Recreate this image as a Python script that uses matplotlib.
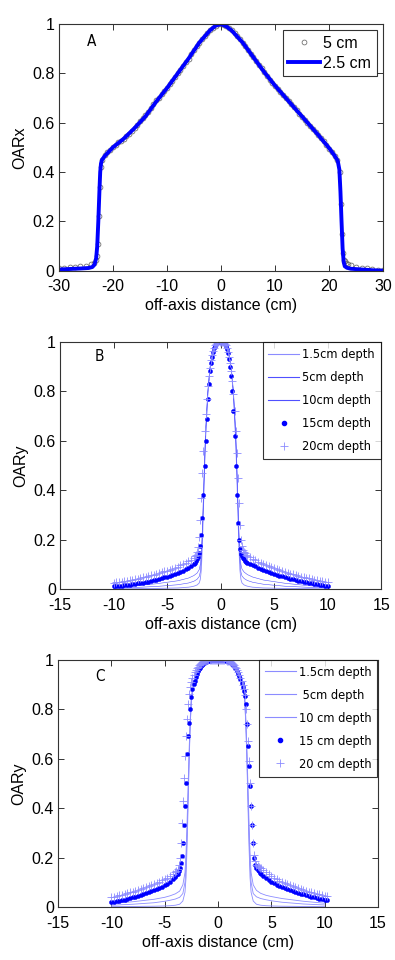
import numpy as np
import matplotlib
matplotlib.use("Agg")
import matplotlib.pyplot as plt
from matplotlib.lines import Line2D
from matplotlib.font_manager import FontProperties

plt.rcParams['font.family'] = ['Liberation Sans', 'DejaVu Sans']
narrow = FontProperties(family='DejaVu Sans', stretch='condensed', size=9.2)
narrow_lbl = FontProperties(family='DejaVu Sans', stretch='condensed', size=11)

# ---------------- panel A : OARx ----------------
xa_5 = np.concatenate([
    [-30, -29, -28, -27, -26, -25, -24],
    [-23.5, -23.2, -23.0, -22.8, -22.6, -22.4, -22.2, -22.0],
    np.arange(-215, 216, 5) / 10.0,
    [22.0, 22.2, 22.4, 22.6, 22.8, 23.0, 23.2, 23.5],
    [24, 25, 26, 27, 28, 29, 30],
])
ya_5 = np.array([
    0.010, 0.012, 0.014, 0.016, 0.018, 0.021, 0.026,
    0.032, 0.042, 0.060, 0.110, 0.220, 0.340, 0.420, 0.450,
    # body -21.5 .. 21.5
    0.470, 0.480, 0.490, 0.500, 0.510, 0.520, 0.527, 0.535, 0.545, 0.555,
    0.567, 0.580, 0.592, 0.605, 0.617, 0.630, 0.645, 0.660, 0.675, 0.690,
    0.702, 0.715, 0.727, 0.740, 0.755, 0.770, 0.785, 0.800, 0.815, 0.830,
    0.845, 0.860, 0.877, 0.895, 0.910, 0.925, 0.938, 0.950, 0.963, 0.975,
    0.985, 0.993, 0.998, 1.000,
    0.997, 0.990, 0.983, 0.975, 0.963, 0.950, 0.938, 0.925, 0.910, 0.895,
    0.880, 0.865, 0.850, 0.835, 0.820, 0.805, 0.790, 0.775, 0.762, 0.750,
    0.737, 0.725, 0.712, 0.700, 0.687, 0.675, 0.662, 0.650, 0.637, 0.625,
    0.612, 0.600, 0.587, 0.575, 0.562, 0.550, 0.537, 0.525, 0.510, 0.495,
    0.480, 0.465, 0.450,
    0.400, 0.270, 0.150, 0.070, 0.045, 0.038, 0.032, 0.027,
    0.022, 0.017, 0.013, 0.010, 0.007, 0.004, 0.002,
])

xa_25 = [-30, -28, -26, -24.5, -23.8, -23.4, -23.1, -22.9, -22.7, -22.5,
         -22.35, -22.2, -22.0, -21.5, -20, -18, -16, -14, -12, -10,
         -8, -6, -4, -2, -1, 0, 1, 2, 4, 6,
         8, 10, 12, 14, 16, 18, 20, 21, 21.6, 21.9,
         22.1, 22.3, 22.5, 22.7, 22.9, 23.3, 24, 26, 28, 30]
ya_25 = [0.005, 0.007, 0.009, 0.011, 0.015, 0.025, 0.05, 0.1, 0.2, 0.32,
         0.4, 0.435, 0.45, 0.465, 0.5, 0.535, 0.578, 0.625, 0.685, 0.74,
         0.80, 0.86, 0.925, 0.975, 0.993, 1.0, 0.99, 0.973, 0.925, 0.865,
         0.805, 0.75, 0.70, 0.65, 0.6, 0.55, 0.497, 0.467, 0.445, 0.41,
         0.32, 0.2, 0.09, 0.035, 0.018, 0.012, 0.008, 0.005, 0.002, 0.0]

# ---------------- panel B : OARy (narrow field) ----------------
xb_lines = [-10, -8, -6, -4, -3, -2.5, -2.2, -2.0, -1.9, -1.8,
            -1.7, -1.6, -1.5, -1.4, -1.2, -1.0, -0.8, -0.5, 0,
            0.5, 0.8, 1.0, 1.2, 1.4, 1.5, 1.6, 1.7, 1.8, 1.9,
            2.0, 2.2, 2.5, 3, 4, 6, 8, 10]
yb_15 = [0.002, 0.003, 0.004, 0.006, 0.009, 0.013, 0.018, 0.026, 0.04, 0.08,
         0.18, 0.33, 0.48, 0.61, 0.78, 0.885, 0.945, 0.985, 1.0,
         0.985, 0.945, 0.885, 0.78, 0.61, 0.48, 0.33, 0.18, 0.08, 0.04,
         0.026, 0.018, 0.013, 0.009, 0.006, 0.004, 0.003, 0.002]
yb_5 = [0.005, 0.008, 0.012, 0.019, 0.026, 0.033, 0.041, 0.052, 0.07, 0.12,
        0.22, 0.36, 0.5, 0.62, 0.79, 0.89, 0.948, 0.986, 1.0,
        0.986, 0.948, 0.89, 0.79, 0.62, 0.5, 0.36, 0.22, 0.12, 0.07,
        0.054, 0.044, 0.036, 0.029, 0.021, 0.013, 0.009, 0.006]
yb_10 = [0.009, 0.015, 0.023, 0.035, 0.046, 0.056, 0.066, 0.08, 0.1, 0.15,
         0.25, 0.39, 0.53, 0.65, 0.8, 0.895, 0.95, 0.987, 1.0,
         0.987, 0.95, 0.895, 0.8, 0.65, 0.53, 0.39, 0.25, 0.15, 0.1,
         0.082, 0.07, 0.06, 0.05, 0.038, 0.025, 0.016, 0.01]

xb_pts = np.concatenate([np.arange(-1000, -274, 25) / 100.0,
                         np.arange(-25, 26) / 10.0,
                         np.arange(275, 1001, 25) / 100.0])
yb_15pt = np.array([
    0.012, 0.013, 0.014, 0.015, 0.016, 0.018, 0.019, 0.021, 0.022, 0.024,
    0.026, 0.028, 0.030, 0.032, 0.034, 0.037, 0.040, 0.043, 0.046, 0.049,
    0.052, 0.055, 0.059, 0.063, 0.067, 0.071, 0.076, 0.081, 0.088, 0.095,
    # core -2.5 .. 2.5
    0.103, 0.108, 0.114, 0.122, 0.132, 0.148, 0.175, 0.220, 0.290, 0.380,
    0.500, 0.600, 0.690, 0.770, 0.830, 0.880, 0.915, 0.940, 0.960, 0.973,
    0.983, 0.990, 0.995, 0.998, 1.000, 1.000, 1.000, 0.998, 0.995, 0.990,
    0.982, 0.970, 0.955, 0.930, 0.900, 0.860, 0.800, 0.720, 0.620, 0.500,
    0.380, 0.270, 0.200, 0.165, 0.145, 0.135, 0.127, 0.121, 0.116, 0.112,
    0.108,
    0.103, 0.098, 0.093, 0.088, 0.083, 0.079, 0.075, 0.071, 0.067, 0.063,
    0.060, 0.056, 0.053, 0.050, 0.047, 0.044, 0.041, 0.038, 0.036, 0.033,
    0.031, 0.029, 0.027, 0.025, 0.023, 0.021, 0.019, 0.017, 0.015, 0.013,
])
yb_20pt = np.array([
    0.028, 0.029, 0.031, 0.032, 0.034, 0.036, 0.038, 0.040, 0.042, 0.044,
    0.046, 0.049, 0.051, 0.054, 0.057, 0.060, 0.063, 0.066, 0.069, 0.073,
    0.076, 0.080, 0.084, 0.088, 0.092, 0.097, 0.102, 0.107, 0.113, 0.120,
    # core -2.5 .. 2.5
    0.128, 0.133, 0.140, 0.150, 0.170, 0.210, 0.280, 0.370, 0.470, 0.560,
    0.640, 0.710, 0.770, 0.820, 0.860, 0.895, 0.925, 0.945, 0.962, 0.975,
    0.985, 0.992, 0.996, 0.999, 1.000, 1.000, 1.000, 0.999, 0.996, 0.992,
    0.985, 0.975, 0.960, 0.940, 0.915, 0.880, 0.840, 0.790, 0.720, 0.640,
    0.550, 0.450, 0.350, 0.260, 0.200, 0.175, 0.160, 0.152, 0.146, 0.141,
    0.137,
    0.130, 0.124, 0.118, 0.112, 0.107, 0.102, 0.097, 0.093, 0.089, 0.085,
    0.081, 0.077, 0.074, 0.070, 0.067, 0.064, 0.061, 0.058, 0.055, 0.052,
    0.050, 0.047, 0.045, 0.042, 0.040, 0.038, 0.036, 0.034, 0.032, 0.030,
])

# ---------------- panel C : OARy (wider field) ----------------
xc_lines = [-10, -8, -6, -5, -4.5, -4, -3.6, -3.3, -3.1, -3.0,
            -2.9, -2.8, -2.7, -2.6, -2.5, -2.3, -2.0, -1.5, -1, 0,
            1, 1.5, 2.0, 2.3, 2.5, 2.6, 2.7, 2.8, 2.9, 3.0,
            3.1, 3.3, 3.6, 4, 4.5, 5, 6, 8, 10]
yc_15 = [0.002, 0.003, 0.004, 0.005, 0.006, 0.008, 0.012, 0.025, 0.06, 0.12,
         0.25, 0.42, 0.6, 0.74, 0.83, 0.9, 0.945, 0.975, 0.99, 1.0,
         0.99, 0.975, 0.945, 0.9, 0.83, 0.74, 0.6, 0.42, 0.25, 0.12,
         0.06, 0.025, 0.012, 0.008, 0.006, 0.005, 0.004, 0.003, 0.002]
yc_5 = [0.008, 0.012, 0.018, 0.024, 0.028, 0.033, 0.04, 0.055, 0.1, 0.17,
        0.3, 0.46, 0.62, 0.75, 0.84, 0.905, 0.948, 0.976, 0.99, 1.0,
        0.99, 0.976, 0.948, 0.905, 0.84, 0.75, 0.62, 0.46, 0.3, 0.17,
        0.1, 0.055, 0.042, 0.035, 0.03, 0.026, 0.02, 0.013, 0.009]
yc_10 = [0.015, 0.022, 0.032, 0.04, 0.046, 0.054, 0.065, 0.09, 0.14, 0.22,
         0.35, 0.5, 0.65, 0.77, 0.85, 0.91, 0.95, 0.977, 0.99, 1.0,
         0.99, 0.977, 0.95, 0.91, 0.85, 0.77, 0.65, 0.5, 0.35, 0.22,
         0.14, 0.09, 0.068, 0.056, 0.048, 0.043, 0.035, 0.024, 0.016]

xc_pts = np.concatenate([np.arange(-1000, -399, 25) / 100.0,
                         np.arange(-39, 40) / 10.0,
                         np.arange(400, 1026, 25) / 100.0])
yc_15pt = np.array([
    0.020, 0.022, 0.024, 0.026, 0.029, 0.031, 0.034, 0.037, 0.040, 0.043,
    0.046, 0.049, 0.052, 0.056, 0.060, 0.064, 0.068, 0.072, 0.077, 0.082,
    0.088, 0.095, 0.103, 0.112, 0.123,
    # core -3.9 .. 3.9
    0.128, 0.135, 0.145, 0.160, 0.180, 0.205, 0.260, 0.330, 0.410, 0.500,
    0.620, 0.690, 0.745, 0.800, 0.850, 0.880, 0.900, 0.915, 0.930, 0.942,
    0.952, 0.960, 0.967, 0.973, 0.978, 0.982, 0.986, 0.989, 0.991, 0.993,
    0.995, 0.996, 0.997, 0.998, 0.999, 1.000, 1.000, 1.000, 1.000, 1.000,
    1.000, 1.000, 1.000, 0.999, 0.998, 0.997, 0.996, 0.995, 0.993, 0.991,
    0.989, 0.986, 0.982, 0.978, 0.973, 0.967, 0.960, 0.952, 0.942, 0.932,
    0.920, 0.905, 0.890, 0.872, 0.852, 0.820, 0.740, 0.650, 0.570, 0.490,
    0.410, 0.330, 0.260, 0.200, 0.172, 0.160, 0.152, 0.145, 0.140,
    0.135, 0.125, 0.117, 0.109, 0.102, 0.096, 0.090, 0.085, 0.080, 0.076,
    0.072, 0.068, 0.064, 0.061, 0.058, 0.055, 0.052, 0.049, 0.046, 0.043,
    0.040, 0.038, 0.035, 0.033, 0.030, 0.028,
])
yc_20pt = np.array([
    0.040, 0.042, 0.045, 0.048, 0.051, 0.054, 0.057, 0.060, 0.063, 0.066,
    0.070, 0.073, 0.077, 0.081, 0.085, 0.089, 0.093, 0.098, 0.103, 0.108,
    0.113, 0.119, 0.126, 0.134, 0.143,
    # core -3.9 .. 3.9
    0.148, 0.155, 0.170, 0.200, 0.260, 0.340, 0.430, 0.520, 0.610, 0.690,
    0.760, 0.820, 0.860, 0.890, 0.910, 0.925, 0.938, 0.948, 0.957, 0.965,
    0.971, 0.977, 0.981, 0.985, 0.988, 0.991, 0.993, 0.995, 0.996, 0.997,
    0.998, 0.999, 1.000, 1.000, 1.000, 1.000, 1.000, 1.000, 1.000, 1.000,
    1.000, 1.000, 1.000, 1.000, 0.999, 0.998, 0.997, 0.996, 0.995, 0.993,
    0.991, 0.988, 0.985, 0.981, 0.977, 0.971, 0.965, 0.957, 0.948, 0.938,
    0.926, 0.912, 0.897, 0.880, 0.855, 0.800, 0.740, 0.670, 0.590, 0.500,
    0.410, 0.330, 0.260, 0.210, 0.185, 0.172, 0.165, 0.162, 0.160,
    0.160, 0.150, 0.141, 0.133, 0.126, 0.119, 0.113, 0.107, 0.102, 0.097,
    0.092, 0.088, 0.084, 0.080, 0.076, 0.073, 0.070, 0.066, 0.063, 0.060,
    0.057, 0.055, 0.052, 0.050, 0.047, 0.045,
])

yticks = [0, 0.2, 0.4, 0.6, 0.8, 1]
ytick_labels = ['0', '0.2', '0.4', '0.6', '0.8', '1']

light = '#8c8cff'
mid = '#5050ff'


def style_axes(ax, xlim, xticks, ylabel):
    ax.set_xlim(xlim)
    ax.set_ylim(0, 1)
    ax.set_xticks(xticks)
    ax.set_xticklabels([str(t) for t in xticks])
    ax.set_yticks(yticks)
    ax.set_yticklabels(ytick_labels)
    ax.tick_params(direction='in', length=4, width=0.7, top=True, right=True,
                   labelsize=11.5, colors='#333333', labelcolor='black')
    ax.tick_params(axis='x', pad=6)
    ax.tick_params(axis='y', pad=3)
    for s in ax.spines.values():
        s.set_linewidth(0.8)
        s.set_color('#333333')
    ax.set_xlabel('off-axis distance (cm)', fontsize=11.5, labelpad=3)
    ax.set_ylabel(ylabel, fontsize=11.5, labelpad=4)


def depth_legend(ax, handles, labels):
    leg = ax.legend(handles, labels, loc='upper right', prop=narrow,
                    frameon=True, fancybox=False, edgecolor='black',
                    borderaxespad=0.05, handlelength=2.4, labelspacing=0.78,
                    borderpad=0.45, handletextpad=0.25)
    leg.get_frame().set_linewidth(0.8)
    return leg


fig = plt.figure(figsize=(3.95, 9.6), dpi=100)

# panel A
axA = fig.add_axes([0.149, 0.718, 0.821, 0.257])
axA.plot(xa_5, ya_5, ls='none', marker='o', ms=3.5, mfc='none', mec='#5a5a5a',
         mew=0.5, label='5 cm')
axA.plot(xa_25, ya_25, color='#0000ff', lw=2.8, label='2.5 cm')
style_axes(axA, (-30, 30), [-30, -20, -10, 0, 10, 20, 30], 'OARx')
axA.text(-24, 0.93, 'A', fontproperties=narrow_lbl, ha='center', va='center')
legA = axA.legend(loc='upper right', fontsize=11.5, frameon=True, fancybox=False,
                  edgecolor='black', borderaxespad=0.4, handlelength=2.0,
                  labelspacing=0.3, borderpad=0.35, handletextpad=0.2)
legA.get_frame().set_linewidth(0.8)

# panel B
axB = fig.add_axes([0.152, 0.386, 0.813, 0.258])
axB.plot(xb_lines, yb_15, color=light, lw=0.6)
axB.plot(xb_lines, yb_5, color=mid, lw=0.4)
axB.plot(xb_lines, yb_10, color=mid, lw=0.4)
axB.plot(xb_pts, yb_15pt, ls='none', marker='o', ms=3, mfc='#0000ff', mec='#0000ff',
         mew=0.3)
axB.plot(xb_pts, yb_20pt, ls='none', marker='+', ms=5.5, mec=light, mew=0.6)
style_axes(axB, (-15, 15), [-15, -10, -5, 0, 5, 10, 15], 'OARy')
axB.text(-11.3, 0.94, 'B', fontproperties=narrow_lbl, ha='center', va='center')
handlesB = [Line2D([], [], color=light, lw=0.8),
            Line2D([], [], color=mid, lw=0.8),
            Line2D([], [], color=mid, lw=0.8),
            Line2D([], [], ls='none', marker='o', ms=3, color='#0000ff'),
            Line2D([], [], ls='none', marker='+', ms=5.5, color=light, mew=0.6)]
depth_legend(axB, handlesB, ['1.5cm depth', '5cm depth', '10cm depth',
                             '15cm depth', '20cm depth'])

# panel C
axC = fig.add_axes([0.147, 0.055, 0.810, 0.258])
axC.plot(xc_lines, yc_15, color=light, lw=0.6)
axC.plot(xc_lines, yc_5, color=light, lw=0.6)
axC.plot(xc_lines, yc_10, color=light, lw=0.6)
axC.plot(xc_pts, yc_15pt, ls='none', marker='o', ms=3, mfc='#0000ff', mec='#0000ff',
         mew=0.3)
axC.plot(xc_pts, yc_20pt, ls='none', marker='+', ms=5.5, mec=light, mew=0.6)
style_axes(axC, (-15, 15), [-15, -10, -5, 0, 5, 10, 15], 'OARy')
axC.text(-11.1, 0.93, 'C', fontproperties=narrow_lbl, ha='center', va='center')
handlesC = [Line2D([], [], color=light, lw=0.8),
            Line2D([], [], color=light, lw=0.8),
            Line2D([], [], color=light, lw=0.8),
            Line2D([], [], ls='none', marker='o', ms=3, color='#0000ff'),
            Line2D([], [], ls='none', marker='+', ms=5.5, color=light, mew=0.6)]
depth_legend(axC, handlesC, ['1.5cm depth', ' 5cm depth', '10 cm depth',
                             '15 cm depth', '20 cm depth'])

fig.savefig('out.png', dpi=100)
